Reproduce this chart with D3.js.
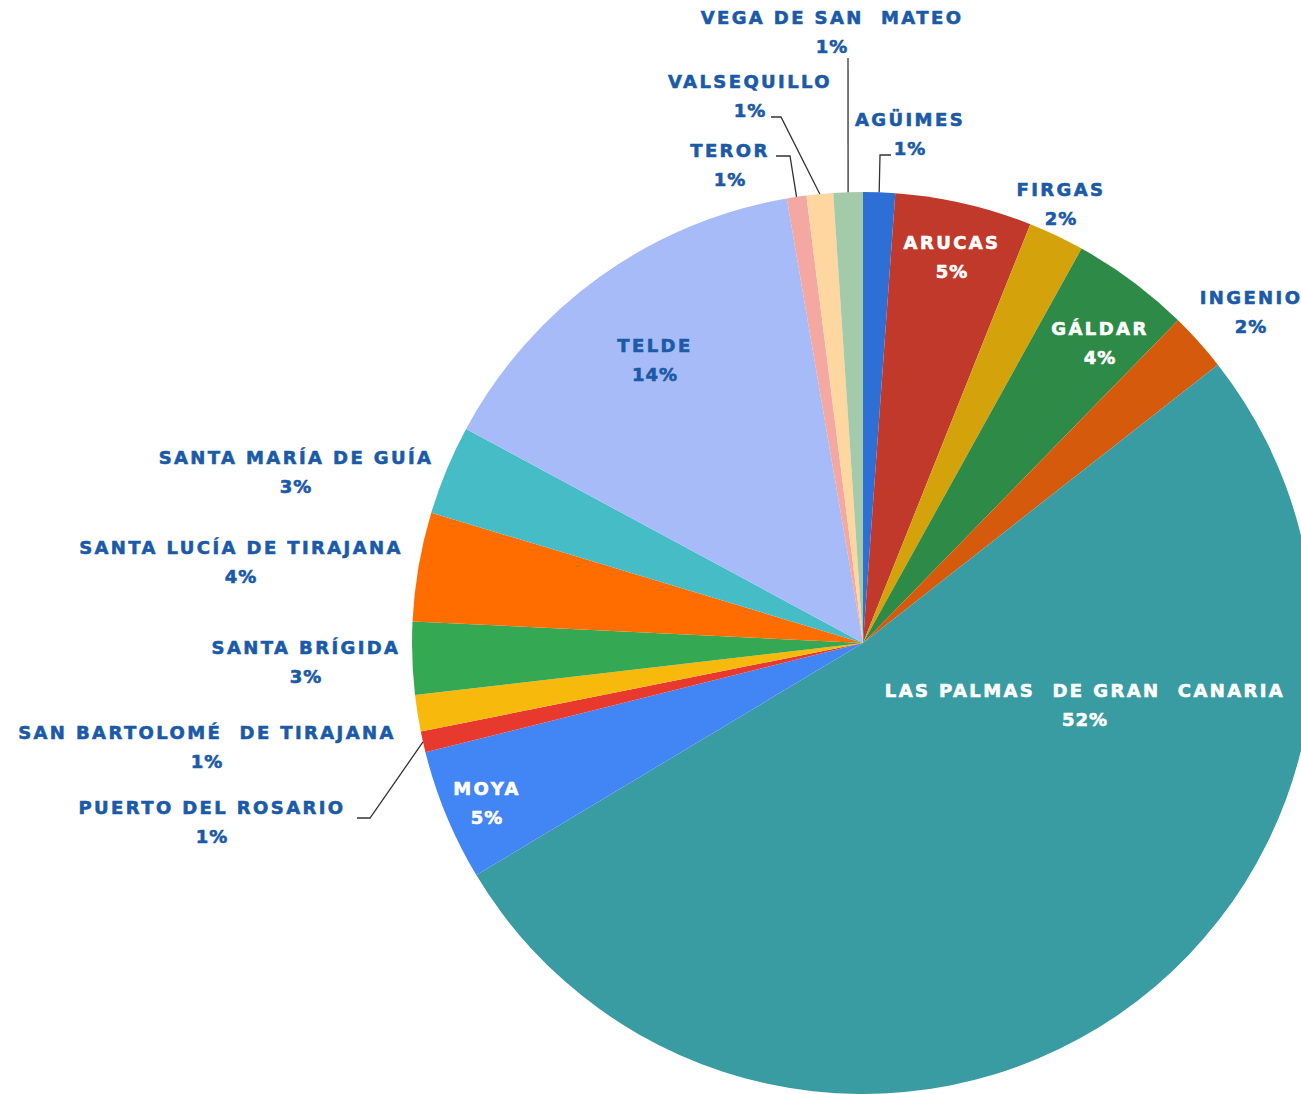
<!DOCTYPE html>
<html>
<head>
<meta charset="utf-8">
<script src="https://cdn.jsdelivr.net/npm/d3@7"></script>
<style>
  body { margin: 0; background: #fff; }
  svg text { font-family: "DejaVu Sans", sans-serif; font-weight: bold; }
</style>
</head>
<body>
<svg></svg>
<script>
const width = 1301, height = 1094;

// Data (shares in %), clockwise from 12 o'clock
const municipios = [
    "AGÜIMES", "ARUCAS", "FIRGAS", "GÁLDAR", "INGENIO",
    "LAS PALMAS  DE GRAN  CANARIA", "MOYA", "PUERTO DEL ROSARIO",
    "SAN BARTOLOMÉ  DE TIRAJANA", "SANTA BRÍGIDA", "SANTA LUCÍA DE TIRAJANA",
    "SANTA MARÍA DE GUÍA", "TELDE", "TEROR", "VALSEQUILLO", "VEGA DE SAN  MATEO"
];
const shares = [1.14, 4.9, 2.0, 4.25, 2.1, 51.9, 4.7, 0.75, 1.3, 2.6, 3.9, 3.2, 14.4, 0.7, 0.95, 1.05];
const colors = [
    "#2e6fd6", "#c0392b", "#d4a20a", "#2e8b47", "#d65a0b",
    "#3a9ca3", "#4285f4", "#e8392e", "#f7b90b", "#34a853",
    "#ff6d01", "#46bdc6", "#a6bbf7", "#f4a8a2", "#fdd6a0", "#a3caa9"
];

// Label layout (text centre; inside labels are white)
const labelPos = {
    "AGÜIMES": { x: 910, y: 119, inside: false, leader: [[891, 155], [880, 155]] },
    "ARUCAS": { x: 952, y: 242, inside: true },
    "FIRGAS": { x: 1061, y: 189, inside: false },
    "GÁLDAR": { x: 1100, y: 328, inside: true },
    "INGENIO": { x: 1251, y: 297, inside: false },
    "LAS PALMAS  DE GRAN  CANARIA": { x: 1085, y: 690, inside: true },
    "MOYA": { x: 487, y: 788, inside: true },
    "PUERTO DEL ROSARIO": { x: 212, y: 807, inside: false, leader: [[357, 818], [370, 818]] },
    "SAN BARTOLOMÉ  DE TIRAJANA": { x: 207, y: 732, inside: false },
    "SANTA BRÍGIDA": { x: 306, y: 647, inside: false },
    "SANTA LUCÍA DE TIRAJANA": { x: 241, y: 547, inside: false },
    "SANTA MARÍA DE GUÍA": { x: 296, y: 457, inside: false },
    "TELDE": { x: 655, y: 345, inside: false },
    "TEROR": { x: 730, y: 150, inside: false, leader: [[776, 156], [790, 156]] },
    "VALSEQUILLO": { x: 750, y: 81, inside: false, leader: [[771, 117], [781, 117]] },
    "VEGA DE SAN  MATEO": { x: 832, y: 17, inside: false, leader: [[848, 58]] }
};

const data = municipios.map((name, i) => ({ name, value: shares[i], color: colors[i] }));
const total = d3.sum(shares);

const cx = 863, cy = 643, radius = 451;
const svg = d3.select("svg").attr("width", width).attr("height", height);
const g = svg.append("g").attr("transform", `translate(${cx},${cy})`);

const pie = d3.pie().value(d => d.value).sort(null);
const arc = d3.arc().innerRadius(0).outerRadius(radius);
const arcs = pie(data);

g.selectAll("path")
    .data(arcs)
    .enter().append("path")
    .attr("d", arc)
    .attr("fill", d => d.data.color);

// Leader lines: from label to the middle of the slice's rim
const rim = d3.arc().innerRadius(radius).outerRadius(radius);
arcs.forEach(d => {
    const lp = labelPos[d.data.name];
    if (!lp.leader) return;
    const end = rim.centroid(d);
    const pts = lp.leader.map(p => [p[0] - cx, p[1] - cy]).concat([end]);
    g.append("path")
        .attr("d", d3.line()(pts))
        .attr("fill", "none")
        .attr("stroke", "#333")
        .attr("stroke-width", 1.3);
});

// Labels
const labelColor = d => labelPos[d.data.name].inside ? "#fff" : "#1b5aa8";
const labels = svg.selectAll("g.label")
    .data(arcs)
    .enter().append("g")
    .attr("class", "label")
    .attr("transform", d => `translate(${labelPos[d.data.name].x},${labelPos[d.data.name].y})`);

labels.append("text")
    .attr("text-anchor", "middle")
    .attr("dominant-baseline", "central")
    .attr("font-size", "18px")
    .attr("letter-spacing", "2.4px")
    .attr("fill", labelColor)
    .attr("stroke", labelColor)
    .attr("stroke-width", 0.6)
    .style("white-space", "pre")
    .text(d => d.data.name);

labels.append("text")
    .attr("text-anchor", "middle")
    .attr("dominant-baseline", "central")
    .attr("y", 29)
    .attr("font-size", "18px")
    .attr("letter-spacing", "1px")
    .attr("fill", labelColor)
    .attr("stroke", labelColor)
    .attr("stroke-width", 0.6)
    .text(d => Math.round(d.data.value / total * 100) + "%");
</script>
</body>
</html>
